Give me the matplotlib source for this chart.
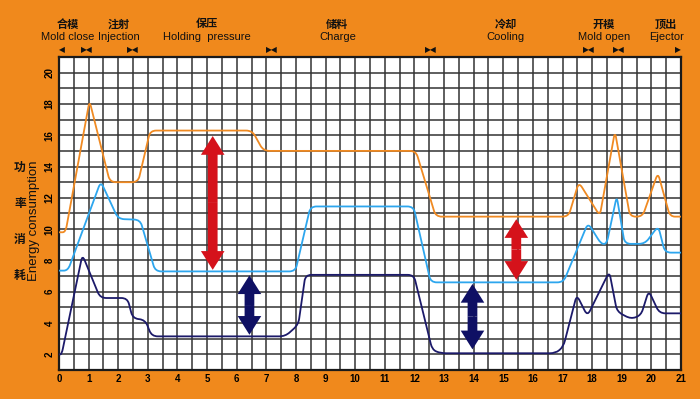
import numpy as np
import matplotlib
matplotlib.use("Agg")
import matplotlib.pyplot as plt
from matplotlib.path import Path
from matplotlib.patches import PathPatch
from matplotlib.transforms import blended_transform_factory

# ---------------- data ----------------
orange_x = [0, 0.22, 1.03, 1.72, 2.67, 3.08, 6.52, 6.9, 12.05, 12.72, 17.2, 17.55, 18.26, 18.77, 19.28, 19.7, 20.22, 20.63, 21]
orange_y = [9.8, 9.8, 18.2, 13.0, 13.0, 16.3, 16.3, 15.0, 15.0, 10.8, 10.8, 13.0, 10.85, 16.25, 10.8, 10.8, 13.6, 10.8, 10.8]

blue_x = [0, 0.3, 1.41, 2.0, 2.74, 3.25, 7.98, 8.49, 11.97, 12.55, 17.03, 17.86, 18.3, 18.49, 18.83, 19.1, 19.78, 20.23, 20.46, 21]
blue_y = [7.35, 7.35, 13.05, 10.65, 10.6, 7.3, 7.3, 11.45, 11.45, 6.6, 6.6, 10.4, 9.06, 9.06, 12.1, 9.06, 9.06, 10.2, 8.5, 8.5]

navy_x = [0, 0.09, 0.79, 1.39, 2.31, 2.49, 2.91, 3.13, 7.64, 8.08, 8.32, 11.98, 12.6, 12.88, 16.77, 17.03, 17.48, 17.84, 18.58, 18.84, 19.31, 19.65, 19.91, 20.27, 21]
navy_y = [2.0, 2.0, 8.36, 5.6, 5.6, 4.3, 4.2, 3.15, 3.15, 3.9, 7.08, 7.08, 2.3, 2.07, 2.07, 2.5, 5.8, 4.45, 7.29, 4.73, 4.26, 4.5, 6.07, 4.62, 4.62]

# double arrows: (x, y_top, y_bottom)
red_arrows = [(5.19, 15.95, 7.4), (15.44, 10.64, 6.76)]
navy_arrows = [(6.43, 7.05, 3.25), (13.96, 6.5, 2.32)]

x_ticks = list(range(0, 22))
y_ticks = list(range(2, 21, 2))

phase_cn = ["合模", "注射", "保压", "储料", "冷却", "开模", "顶出"]
phase_en = ["Mold close", "Injection", "Holding  pressure", "Charge", "Cooling", "Mold open", "Ejector"]
phase_center = [0.3, 2.03, 5.0, 9.4, 15.08, 18.4, 20.5]
phase_bounds = [0.95, 2.5, 7.2, 12.55, 17.9, 18.9]

ylabel_cn = ["功", "率", "消", "耗"]

# ---------------- style ----------------
BG = "#F0891C"
C_OR = "#F08A22"
C_BL = "#2DA6EE"
C_NV = "#1C1A6A"
C_RED = "#D5121B"
C_NVA = "#0F1064"

W, H = 700, 399
fig = plt.figure(figsize=(W / 100, H / 100), dpi=100, facecolor=BG)
L, R, B, T = 59, 681, 370, 57
ax = fig.add_axes([L / W, 1 - B / H, (R - L) / W, (B - T) / H])
ax.set_facecolor("white")
ax.set_xlim(0, 21)
ax.set_ylim(1, 21)

for v in np.arange(0.5, 21, 0.5):
    ax.axvline(v, color="#333333", lw=1.1, zorder=1)
for h in range(2, 21):
    ax.axhline(h, color="#333333", lw=1.1, zorder=1)

for s in ax.spines.values():
    s.set_color("#1a1a1a")
    s.set_linewidth(1.6)

ax.set_xticks(x_ticks)
ax.set_yticks(y_ticks)
ax.tick_params(length=0, pad=3)
for lab in ax.get_xticklabels():
    lab.set_fontsize(7)
    lab.set_family("Liberation Sans")
    lab.set_fontweight("bold")
ax.set_yticklabels([str(v) for v in y_ticks], rotation=90, va="center",
                   fontsize=7, family="Liberation Sans", fontweight="bold")

sx = (R - L) / 21.0
sy = (B - T) / 20.0


def rounded_path(xs, ys, rad=6.0):
    pts = np.column_stack([xs, ys]).astype(float)
    scale = np.array([sx, sy])
    verts = [pts[0]]
    codes = [Path.MOVETO]
    for i in range(1, len(pts) - 1):
        p, c, n = pts[i - 1], pts[i], pts[i + 1]
        d1 = (p - c) * scale
        d2 = (n - c) * scale
        l1 = np.hypot(*d1)
        l2 = np.hypot(*d2)
        t1 = min(rad, 0.45 * l1) / l1
        t2 = min(rad, 0.45 * l2) / l2
        a = c + (p - c) * t1
        b = c + (n - c) * t2
        verts += [a, c, b]
        codes += [Path.LINETO, Path.CURVE3, Path.CURVE3]
    verts.append(pts[-1])
    codes.append(Path.LINETO)
    return Path(verts, codes)


for xs, ys, col in [(orange_x, orange_y, C_OR), (blue_x, blue_y, C_BL), (navy_x, navy_y, C_NV)]:
    ax.add_patch(PathPatch(rounded_path(xs, ys), facecolor="none", edgecolor=col,
                           lw=1.3, zorder=3, capstyle="round", joinstyle="round"))


def double_arrow(x, y1, y2, col):
    ym = 0.5 * (y1 + y2)
    style = "simple,head_length=1.35,head_width=1.7,tail_width=0.7"
    for yend in (y1, y2):
        ax.annotate("", xy=(x, yend), xytext=(x, ym),
                    arrowprops=dict(arrowstyle=style, color=col, lw=0,
                                    mutation_scale=10, shrinkA=0, shrinkB=0),
                    zorder=4)


for x, a, b in red_arrows:
    double_arrow(x, a, b, C_RED)
for x, a, b in navy_arrows:
    double_arrow(x, a, b, C_NVA)

# ---------------- header labels ----------------
trans = blended_transform_factory(ax.transData, fig.transFigure)
cjk = ["Noto Sans CJK SC", "DejaVu Sans"]
for cn, en, xc in zip(phase_cn, phase_en, phase_center):
    ax.text(xc, 1 - 24 / H, cn, transform=trans, ha="center", va="center",
            fontsize=8, family=cjk, fontweight="bold", color="#111")
    ax.text(xc, 1 - 37 / H, en, transform=trans, ha="center", va="center",
            fontsize=8, family="Liberation Sans", color="#111")

ym = 1 - 49.5 / H
ax.text(0.1, ym, "◀", transform=trans, ha="center", va="center", fontsize=5.5,
        family="DejaVu Sans", color="#111")
for xb in phase_bounds:
    ax.text(xb, ym, "▶◀", transform=trans, ha="center", va="center", fontsize=5.5,
            family="DejaVu Sans", color="#111")
ax.text(20.9, ym, "▶", transform=trans, ha="center", va="center", fontsize=5.5,
        family="DejaVu Sans", color="#111")

# ---------------- y label ----------------
fig.text(34 / W, 1 - 221 / H, "Energy consumption", rotation=90, ha="center", va="center",
         fontsize=9.5, family="Liberation Sans", color="#111")
for i, ch in enumerate(ylabel_cn):
    fig.text(20 / W, 1 - (167 + i * 36) / H, ch, ha="center", va="center",
             fontsize=8.5, family=cjk, fontweight="bold", color="#111")

fig.savefig("out.png", dpi=100, facecolor=BG)
